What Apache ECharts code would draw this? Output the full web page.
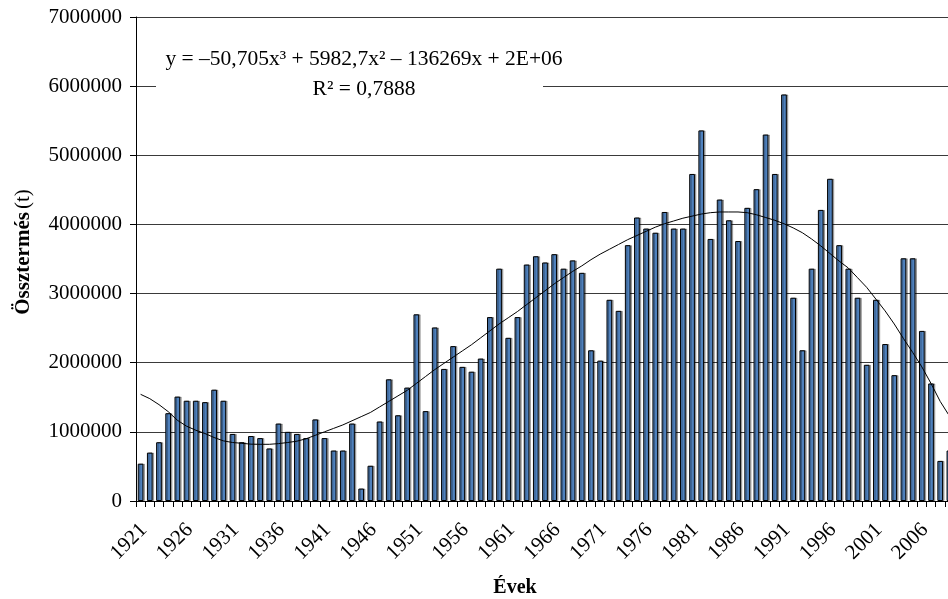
<!DOCTYPE html>
<html>
<head>
<meta charset="utf-8">
<script src="https://cdn.jsdelivr.net/npm/echarts@6/dist/echarts.min.js"></script>
<style>
html,body{margin:0;padding:0;overflow:hidden;background:#fff;}
#c{width:960px;height:599px;}
</style>
</head>
<body>
<div id="c"></div>
<script>
const years = [];
for (let y = 1921; y <= 2009; y++) years.push(String(y));

const production = [
  540000, 700000, 850000, 1270000, 1510000, 1450000, 1450000, 1430000, 1610000, 1450000,
  970000, 850000, 940000, 910000, 760000, 1120000, 1000000, 970000, 910000, 1180000,
  910000, 730000, 730000, 1120000, 180000, 510000, 1150000, 1760000, 1240000, 1640000,
  2700000, 1300000, 2510000, 1910000, 2240000, 1940000, 1870000, 2060000, 2660000, 3360000,
  2360000, 2660000, 3420000, 3540000, 3450000, 3570000, 3360000, 3480000, 3300000, 2180000,
  2030000, 2910000, 2750000, 3700000, 4100000, 3940000, 3880000, 4180000, 3940000, 3940000,
  4730000, 5360000, 3790000, 4360000, 4060000, 3760000, 4240000, 4510000, 5300000, 4730000,
  5880000, 2940000, 2180000, 3360000, 4210000, 4660000, 3700000, 3360000, 2940000, 1970000,
  2910000, 2270000, 1820000, 3510000, 3510000, 2460000, 1700000, 580000, 730000
];

const trend = [
  1543000, 1480000, 1394000, 1293000, 1168000, 1082000, 1024000, 976000, 918000, 870000,
  846000, 835000, 822000, 820000, 820000, 830000, 846000, 865000, 900000, 950000,
  1000000, 1050000, 1100000, 1160000, 1220000, 1280000, 1360000, 1440000, 1520000, 1600000,
  1700000, 1800000, 1900000, 1990000, 2080000, 2170000, 2260000, 2360000, 2460000, 2560000,
  2650000, 2740000, 2840000, 2940000, 3040000, 3140000, 3230000, 3320000, 3400000, 3490000,
  3570000, 3640000, 3710000, 3780000, 3840000, 3900000, 3960000, 4010000, 4050000, 4090000,
  4120000, 4150000, 4170000, 4180000, 4180000, 4180000, 4170000, 4140000, 4100000, 4060000,
  4010000, 3950000, 3880000, 3790000, 3690000, 3580000, 3470000, 3370000, 3230000, 3090000,
  2920000, 2750000, 2560000, 2350000, 2150000, 1940000, 1700000, 1440000, 1230000
];

const yTicks = [0, 1000000, 2000000, 3000000, 4000000, 5000000, 6000000, 7000000];
const equationLine1 = 'y = –50,705x³ + 5982,7x² – 136269x + 2E+06';
const equationLine2 = 'R² = 0,7888';
const yTitleBold = 'Össztermés';
const yTitleUnit = '(t)';
const xTitle = 'Évek';

const FONT = '"Liberation Serif", "Times New Roman", serif';

const chart = echarts.init(document.getElementById('c'));
chart.setOption({
  animation: false,
  backgroundColor: '#fff',
  textStyle: { fontFamily: FONT },
  grid: { left: 136, top: 17, right: 6, bottom: 98, containLabel: false },
  xAxis: {
    type: 'category',
    data: years,
    boundaryGap: true,
    axisLine: { show: true, lineStyle: { color: '#000', width: 1 } },
    axisTick: { show: true, interval: 0, length: 6, inside: false, lineStyle: { color: '#000' } },
    axisLabel: {
      interval: 4, rotate: 45, margin: 14,
      align: 'right', verticalAlign: 'top',
      padding: [0, 6, 0, 0],
      fontFamily: FONT, fontSize: 21, color: '#000'
    },
    splitLine: { show: false }
  },
  yAxis: {
    type: 'value',
    min: yTicks[0],
    max: yTicks[yTicks.length - 1],
    interval: yTicks[1] - yTicks[0],
    name: '{b|' + yTitleBold + '} {n|' + yTitleUnit + '}',
    nameLocation: 'middle',
    nameGap: 102,
    nameRotate: 90,
    nameTextStyle: {
      padding: [0, 0, 0, 14],
      rich: {
        b: { fontFamily: FONT, fontSize: 21, fontWeight: 'bold', color: '#000' },
        n: { fontFamily: FONT, fontSize: 21, color: '#000' }
      }
    },
    axisLine: { show: true, lineStyle: { color: '#000', width: 1 } },
    axisTick: { show: true, length: 6, lineStyle: { color: '#000' } },
    axisLabel: {
      margin: 14, fontFamily: FONT, fontSize: 21, color: '#000',
      formatter: function (v) { return String(v); }
    },
    splitLine: { show: true, lineStyle: { color: '#3a3a3a', width: 1 } }
  },
  series: [
    {
      type: 'bar',
      data: production,
      barWidth: '62%',
      itemStyle: {
        color: '#4F81BD',
        borderColor: '#000',
        borderWidth: 1,
        shadowColor: 'rgba(0,0,0,0.3)',
        shadowOffsetX: 1.5,
        shadowOffsetY: 0,
        shadowBlur: 0
      },
      z: 2
    },
    {
      type: 'line',
      data: trend,
      symbol: 'none',
      smooth: false,
      lineStyle: { color: '#000', width: 1 },
      z: 3
    }
  ],
  graphic: [
    {
      type: 'rect',
      shape: { x: 156, y: 40, width: 387, height: 70 },
      style: { fill: '#fff' },
      z: 100
    },
    {
      type: 'text',
      x: 364, y: 59,
      style: {
        text: equationLine1,
        font: '21.5px ' + FONT,
        fill: '#000',
        align: 'center',
        verticalAlign: 'middle'
      },
      z: 101
    },
    {
      type: 'text',
      x: 364, y: 89,
      style: {
        text: equationLine2,
        font: '21.5px ' + FONT,
        fill: '#000',
        align: 'center',
        verticalAlign: 'middle'
      },
      z: 101
    },
    {
      type: 'text',
      x: 515, y: 588,
      style: {
        text: xTitle,
        font: 'bold 20px ' + FONT,
        fill: '#000',
        align: 'center',
        verticalAlign: 'middle'
      },
      z: 101
    }
  ]
});
</script>
</body>
</html>
